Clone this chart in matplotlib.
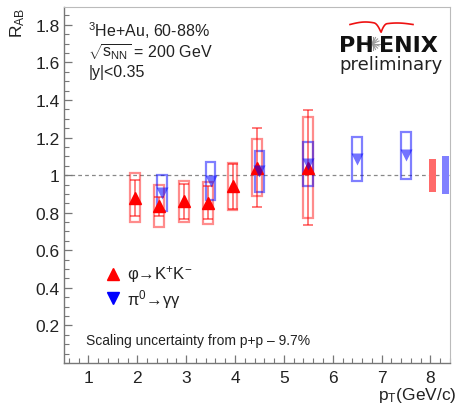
import numpy as np
import matplotlib
matplotlib.use("Agg")
import matplotlib.pyplot as plt
from matplotlib.patches import Rectangle
from matplotlib.lines import Line2D
from matplotlib.ticker import FixedLocator, MultipleLocator, FuncFormatter

plt.rcParams['font.family'] = ['Liberation Sans', 'DejaVu Sans']
plt.rcParams['mathtext.fontset'] = 'custom'
plt.rcParams['mathtext.rm'] = 'Liberation Sans'
plt.rcParams['mathtext.it'] = 'Liberation Sans:italic'

# phi -> K+K- in 3He+Au 60-88%
phi_pt = [1.95, 2.45, 2.95, 3.45, 3.95, 4.45, 5.5]
phi_raa = [0.88, 0.835, 0.86, 0.852, 0.94, 1.04, 1.04]
phi_stat = [0.095, 0.05, 0.092, 0.088, 0.12, 0.21, 0.305]
phi_sys = [0.13, 0.112, 0.11, 0.112, 0.126, 0.15, 0.267]

# pi0 -> gamma gamma
pi0_pt = [2.5, 3.5, 4.5, 5.5, 6.5, 7.5]
pi0_raa = [0.905, 0.97, 1.02, 1.06, 1.085, 1.105]
pi0_sys = [0.095, 0.10, 0.11, 0.118, 0.117, 0.124]

# global normalisation uncertainties
norm_pt = [8.05, 8.30]
norm_unc = [0.088, 0.10]

box_hw = 0.1
RED = '#ff0000'
BLUE = '#0000ff'

fig = plt.figure(figsize=(4.58, 4.10), dpi=100)
ax = fig.add_axes([64/458, 46/410, 386/458, 356/410])
ax.set_xlim(0.5, 8.4)
ax.set_ylim(0.0, 1.895)

# reference line at unity
ax.axhline(1.0, color='#888888', lw=0.9, ls=(0, (3, 2.5)), zorder=1)

# systematic boxes
for x, y, s in zip(phi_pt, phi_raa, phi_sys):
    ax.add_patch(Rectangle((x - box_hw, y - s), 2 * box_hw, 2 * s, fill=False,
                           ec=RED, alpha=0.45, lw=1.6, zorder=2))
for x, y, s in zip(pi0_pt, pi0_raa, pi0_sys):
    ax.add_patch(Rectangle((x - box_hw, y - s), 2 * box_hw, 2 * s, fill=False,
                           ec=BLUE, alpha=0.5, lw=1.6, zorder=2))

# normalisation boxes
norm_colors = ['#ff6a6a', '#8080ff']
for x, u, c in zip(norm_pt, norm_unc, norm_colors):
    ax.add_patch(Rectangle((x - 0.07, 1 - u), 0.14, 2 * u, fc=c, ec='none', zorder=2))

# statistical errors and markers
ax.errorbar(phi_pt, phi_raa, yerr=phi_stat, fmt='none', ecolor=RED, alpha=0.6,
            elinewidth=1.2, capsize=3.5, capthick=1.2, zorder=3)
ax.plot(phi_pt, phi_raa, ls='none', marker='^', ms=9, color=RED, mec=RED, zorder=4)
ax.plot(pi0_pt, pi0_raa, ls='none', marker='v', ms=9, color=BLUE, mec='none',
        alpha=0.55, zorder=5)

# axes styling
for side in ['top', 'right']:
    ax.spines[side].set_color('#bbbbbb')
    ax.spines[side].set_linewidth(0.8)
for side in ['left', 'bottom']:
    ax.spines[side].set_color('#777777')
    ax.spines[side].set_linewidth(1.0)

ax.xaxis.set_major_locator(FixedLocator([1, 2, 3, 4, 5, 6, 7, 8]))
ax.xaxis.set_minor_locator(MultipleLocator(0.2))
ax.yaxis.set_major_locator(FixedLocator([0.2, 0.4, 0.6, 0.8, 1.0, 1.2, 1.4, 1.6, 1.8]))
ax.yaxis.set_minor_locator(MultipleLocator(0.05))
ax.yaxis.set_major_formatter(FuncFormatter(lambda v, p: '1' if abs(v - 1) < 1e-9 else f'{v:.1f}'))
ax.xaxis.set_major_formatter(FuncFormatter(lambda v, p: f'{v:.0f}'))
ax.tick_params(which='both', direction='in', color='#777777', labelsize=12.5,
               labelcolor='#222222')
ax.tick_params(which='major', length=6, width=0.9)
ax.tick_params(which='minor', length=3.5, width=0.8)
ax.tick_params(axis='x', pad=5)
ax.tick_params(axis='y', pad=3)

# axis titles
fig.text(457/458, 1 - 396/410, r'p$_\mathregular{T}$(GeV/c)', ha='right', va='center',
         fontsize=12.5, color='#222222')
fig.text(18/458, 1 - 8/410, r'R$_\mathregular{AB}$', ha='center', va='top',
         rotation=90, fontsize=12.5, color='#222222')

# system annotations
ax.text(0.063, 0.965, r'$^\mathregular{3}$He+Au, 60-88%', transform=ax.transAxes,
        fontsize=11.5, va='top', color='#222222')
ax.text(0.063, 0.905, r'$\sqrt{\mathregular{s}_\mathregular{NN}}$ = 200 GeV',
        transform=ax.transAxes, fontsize=11.5, va='top', color='#222222')
ax.text(0.063, 0.840, '|y|<0.35', transform=ax.transAxes, fontsize=11.5, va='top',
        color='#222222')

# legend
ax.plot([1.5], [0.475], marker='^', ms=9, color=RED, ls='none')
ax.plot([1.5], [0.345], marker='v', ms=9, color=BLUE, ls='none')
ax.text(1.79, 0.475, 'φ→K$^\\mathregular{+}$K$^{-}$', fontsize=12, va='center',
        color='#222222')
ax.text(1.79, 0.345, 'π$^\\mathregular{0}$→γγ', fontsize=12, va='center',
        color='#222222')

ax.text(0.955, 0.125, 'Scaling uncertainty from p+p – 9.7%', fontsize=10,
        va='center', color='#222222')

# PHENIX preliminary badge
def fx(px):
    return px / 458

def fy(py):
    return 1 - py / 410

fig.text(fx(339), fy(52), 'PH', fontsize=16, fontweight='bold', family='DejaVu Sans',
         color='#111111', va='baseline')
fig.text(fx(379), fy(52), 'ENIX', fontsize=16, fontweight='bold', family='DejaVu Sans',
         color='#111111', va='baseline')
fig.text(fx(391), fy(70), 'preliminary', fontsize=13, family='DejaVu Sans',
         color='#222222', va='baseline', ha='center')
cx, cy = 373, 44.5
for ang in np.linspace(0, np.pi, 8, endpoint=False):
    dx, dy = 6.5 * np.cos(ang), 6.5 * np.sin(ang)
    fig.add_artist(Line2D([fx(cx - dx), fx(cx + dx)], [fy(cy - dy), fy(cy + dy)],
                          color='#999999', lw=0.8))
# gull-wing arc with a V notch in the middle
arc_x = np.linspace(350, 413, 80)
left = arc_x < 381
arc_y = np.where(left,
                 25.5 - 2.5 * np.sin(np.pi * (arc_x - 350) / 31) + 8 * np.clip(1 - (381 - arc_x) / 7, 0, 1) ** 2,
                 25.5 - 1.5 * np.sin(np.pi * (arc_x - 381) / 32) + 8 * np.clip(1 - (arc_x - 381) / 6, 0, 1) ** 2)
fig.add_artist(Line2D(fx(arc_x), fy(arc_y), color='#ee1111', lw=1.2))

fig.savefig('out.png', dpi=100)
